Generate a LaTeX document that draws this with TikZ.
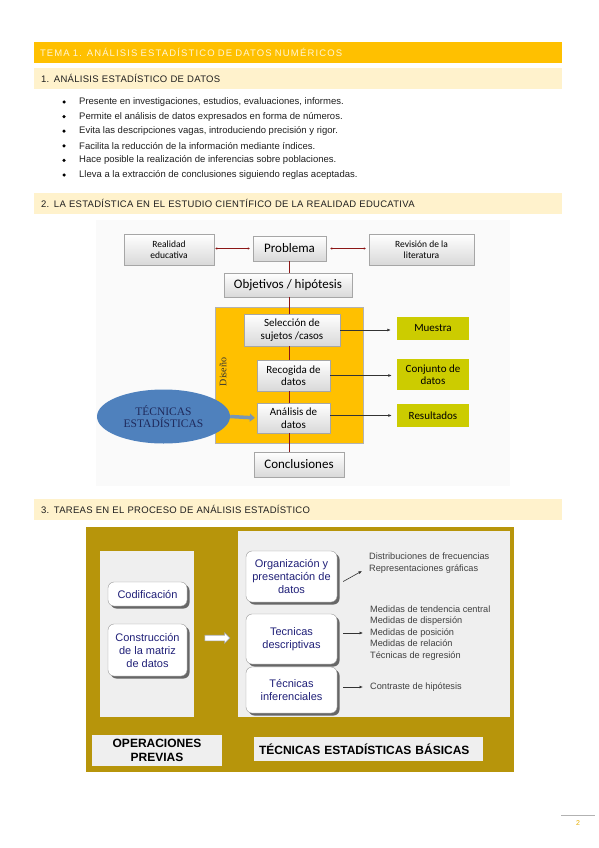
\documentclass[tikz,border=0pt]{standalone}
\usepackage{fontspec}
\setmainfont{Liberation Sans}
\newfontfamily\calibri{Carlito}
\newfontfamily\serifa{Liberation Serif}
\newfontfamily\espaciada[LetterSpace=12]{Liberation Sans}
\newfontfamily\encab[LetterSpace=3]{Liberation Sans}
\usepackage{xcolor}
\definecolor{temaoro}{RGB}{255,192,0}
\definecolor{temaclaro}{RGB}{255,246,214}
\definecolor{seccrema}{RGB}{255,242,204}
\definecolor{textogris}{RGB}{30,30,30}
\definecolor{rojoosc}{RGB}{140,22,22}
\definecolor{oliva}{RGB}{204,204,0}
\definecolor{elipazul}{RGB}{79,129,189}
\definecolor{marino}{RGB}{31,42,92}
\definecolor{flechaazul}{RGB}{120,150,180}
\definecolor{marcooro}{RGB}{183,149,11}
\definecolor{panelgris}{RGB}{239,239,239}
\definecolor{azultexto}{RGB}{32,32,120}
\usetikzlibrary{shapes.geometric, shapes.arrows, arrows.meta, positioning, calc, shadows}

\begin{document}
\begin{tikzpicture}[x=1pt, y=-1pt,
        titulo/.style={rectangle, fill=temaoro, minimum height=21pt, text width=516pt, inner xsep=6pt, align=left, text=temaclaro, font=\espaciada\fontsize{9.5}{11}\selectfont},
        seccion/.style={rectangle, fill=seccrema, minimum height=21pt, text width=514pt, inner xsep=7pt, align=left, text=textogris, font=\encab\fontsize{9.5}{11}\selectfont},
        vineta/.style={inner sep=0pt, text=textogris, font=\fontsize{9.5}{11}\selectfont},
        punto/.style={circle, fill=black, inner sep=0pt, minimum size=3.5pt},
        grisbox/.style={rectangle, draw=gray!70, top color=white, bottom color=gray!30, inner sep=0pt, align=center, font=\calibri, drop shadow={shadow xshift=1pt, shadow yshift=-1pt, opacity=0.35}},
        olivabox/.style={rectangle, fill=oliva, inner sep=0pt, align=center, minimum width=72pt, font=\calibri\fontsize{11}{12.5}\selectfont},
        rojo/.style={draw=rojoosc, line width=1.2pt},
        flecha/.style={draw=black!80, line width=0.8pt, -{Latex[length=3.5pt, width=3pt]}},
        panel/.style={rectangle, fill=panelgris, inner sep=0pt},
        cajaazul/.style={rectangle, rounded corners=6pt, draw=gray!80, fill=white, minimum width=91pt, inner sep=0pt, align=center, text=azultexto, font=\fontsize{11}{13}\selectfont, drop shadow={shadow xshift=2.5pt, shadow yshift=-2.5pt, fill=black!65, opacity=0.9}},
        lista/.style={inner sep=0pt, align=left, text=black!75, font=\fontsize{9.2}{11.5}\selectfont},
        rotulo/.style={rectangle, fill=panelgris, inner sep=0pt, font=\bfseries\fontsize{12}{13.5}\selectfont}]

    \useasboundingbox (0,0) rectangle (599,848);

    % cabeceras
    \node [titulo] (tema) at (298,52.5) {TEMA 1. ANÁLISIS ESTADÍSTICO DE DATOS NUMÉRICOS};
    \node [seccion] (sec1) at (298,78.5) {1. ANÁLISIS ESTADÍSTICO DE DATOS};
    \node [seccion] (sec2) at (298,203) {2. LA ESTADÍSTICA EN EL ESTUDIO CIENTÍFICO DE LA REALIDAD EDUCATIVA};
    \node [seccion] (sec3) at (298,509.5) {3. TAREAS EN EL PROCESO DE ANÁLISIS ESTADÍSTICO};

    \foreach \txt [count=\i] in {{Presente en investigaciones, estudios, evaluaciones, informes.},
        {Permite el análisis de datos expresados en forma de números.},
        {Evita las descripciones vagas, introduciendo precisión y rigor.},
        {Facilita la reducción de la información mediante índices.},
        {Hace posible la realización de inferencias sobre poblaciones.},
        {Lleva a la extracción de conclusiones siguiendo reglas aceptadas.}}{
        \node [punto] (p\i) at (64,{87.4+14.6*\i}) {};
        \node [vineta, anchor=west] (b\i) at (79,{87.4+14.6*\i}) {\txt};
    }

    % esquema 2
    \node [rectangle, fill=black!2, minimum width=414pt, minimum height=266pt] (fondo2) at (303,353) {};
    \node [grisbox, minimum width=90pt, minimum height=31pt, font=\calibri\fontsize{9.5}{11}\selectfont] (real) at (169,249.5) {Realidad\\educativa};
    \node [grisbox, minimum width=73pt, minimum height=25pt, font=\calibri\fontsize{13}{15}\selectfont] (prob) at (289.5,248.5) {Problema};
    \node [grisbox, minimum width=105pt, minimum height=31pt, font=\calibri\fontsize{9.5}{11}\selectfont] (revi) at (421.5,249.5) {Revisión de la\\literatura};
    \node [grisbox, minimum width=128pt, minimum height=24pt, font=\calibri\fontsize{13}{15}\selectfont] (obj) at (288,285) {Objetivos / hipótesis};
    \node [rectangle, fill=temaoro, draw=black!30, minimum width=148pt, minimum height=136pt] (dise) at (289,375) {};
    \node [rotate=90, inner sep=0pt, text=black!80, font=\serifa\fontsize{10}{12}\selectfont] (diseno) at (223,372) {Diseño};
    \node [grisbox, minimum width=96pt, minimum height=32pt, font=\calibri\fontsize{11}{12.5}\selectfont] (sel) at (292,330) {Selección de\\sujetos /casos};
    \node [grisbox, minimum width=73pt, minimum height=31pt, font=\calibri\fontsize{11}{12.5}\selectfont] (rec) at (293.5,375.5) {Recogida de\\datos};
    \node [grisbox, minimum width=73pt, minimum height=30pt, font=\calibri\fontsize{11}{12.5}\selectfont] (ana) at (293.5,418) {Análisis de\\datos};
    \node [grisbox, minimum width=90pt, minimum height=25pt, font=\calibri\fontsize{13}{15}\selectfont] (conc) at (299,464.5) {Conclusiones};
    \node [olivabox, minimum height=23pt] (mues) at (433,328.5) {Muestra};
    \node [olivabox, minimum height=31pt] (conj) at (433,374.5) {Conjunto de\\datos};
    \node [olivabox, minimum height=23pt] (resu) at (433,415.5) {Resultados};
    \node [ellipse, fill=elipazul, minimum width=133pt, minimum height=54pt, inner sep=0pt, align=center, text=marino, font=\serifa\fontsize{11.5}{12.5}\selectfont] (tec) at (163.5,416.5) {TÉCNICAS\\ESTADÍSTICAS};

    \draw [rojo] (prob.south) -- (obj.north -| prob.south);
    \draw [rojo] (obj.south -| prob.south) -- (sel.north -| prob.south);
    \draw [rojo] (sel.south -| prob.south) -- (rec.north -| prob.south);
    \draw [rojo] (rec.south -| prob.south) -- (ana.north -| prob.south);
    \draw [rojo] (ana.south -| prob.south) -- (conc.north -| prob.south);
    \draw [rojo, line width=1pt, {Latex[length=2pt, width=2.5pt]}-{Latex[length=2pt, width=2.5pt]}, shorten <=1pt, shorten >=3pt] (real.east |- prob.west) -- (prob.west);
    \draw [rojo, line width=1pt, {Latex[length=2pt, width=2.5pt]}-{Latex[length=2pt, width=2.5pt]}, shorten <=4pt, shorten >=3pt] (prob.east) -- (revi.west |- prob.east);
    \draw [flecha, shorten >=6pt] (sel.east) -- (mues.west |- sel.east);
    \draw [flecha, shorten >=5pt] (rec.east) -- (conj.west |- rec.east);
    \draw [flecha, shorten >=5pt] (ana.east |- resu.west) -- (resu.west);
    \draw [draw=flechaazul, line width=3.5pt, -{Triangle[length=5pt, width=8pt]}, shorten >=2pt] (tec.east) -- (ana.west);

    % esquema 3
    \node [rectangle, fill=marcooro, minimum width=428pt, minimum height=245pt] (marco) at (300,649.5) {};
    \node [panel, minimum width=94pt, minimum height=166pt] (izq) at (147,634) {};
    \node [panel, minimum width=272pt, minimum height=186pt] (der) at (374,624) {};
    \node [cajaazul, minimum width=79pt, minimum height=24pt] (cod) at (147.5,594) {Codificación};
    \node [cajaazul, minimum width=79pt, minimum height=52pt] (cons) at (147.5,650) {Construcción\\de la matriz\\de datos};
    \node [single arrow, fill=white, draw=gray!70, line width=0.6pt, minimum height=25pt, inner xsep=0pt, inner ysep=2.5pt, single arrow head extend=2.5pt] (blanca) at (216,638) {};
    \node [cajaazul, minimum height=51pt] (org) at (291.5,576.5) {Organización y\\presentación de\\datos};
    \node [cajaazul, minimum height=50pt] (desc) at (291.5,639) {Tecnicas\\descriptivas};
    \node [cajaazul, minimum height=46pt] (inf) at (291.5,690) {Técnicas\\inferenciales};
    \node [lista, anchor=west] (l1) at (369,563) {Distribuciones de frecuencias\\Representaciones gráficas};
    \node [lista, anchor=west] (l2) at (370,633) {Medidas de tendencia central\\Medidas de dispersión\\Medidas de posición\\Medidas de relación\\Técnicas de regresión};
    \node [lista, anchor=west] (l3) at (370,687) {Contraste de hipótesis};
    \node [rotulo, minimum width=130pt, minimum height=31pt, align=center] (ope) at (157,750.5) {OPERACIONES\\PREVIAS};
    \node [rotulo, minimum height=24pt, text width=219pt, inner xsep=5pt, align=left] (tecb) at (368.5,749) {TÉCNICAS ESTADÍSTICAS BÁSICAS};

    \draw [flecha, line width=0.6pt] ([shift={(6,5)}]org.east) -- ([shift={(-7,8)}]l1.west);
    \draw [flecha, line width=0.6pt, shorten <=6pt, shorten >=7pt] (desc.east |- l2.west) -- (l2.west);
    \draw [flecha, line width=0.8pt, shorten <=6pt, shorten >=7pt] (inf.east |- l3.west) -- (l3.west);

    % pie
    \draw [gray!60, line width=0.6pt] (561,815) coordinate (pie1) -- (595,815) coordinate (pie2);
    \node [text=temaoro!90!black, font=\fontsize{7}{8}\selectfont] (pag) at (578,823) {2};
\end{tikzpicture}
\end{document}
